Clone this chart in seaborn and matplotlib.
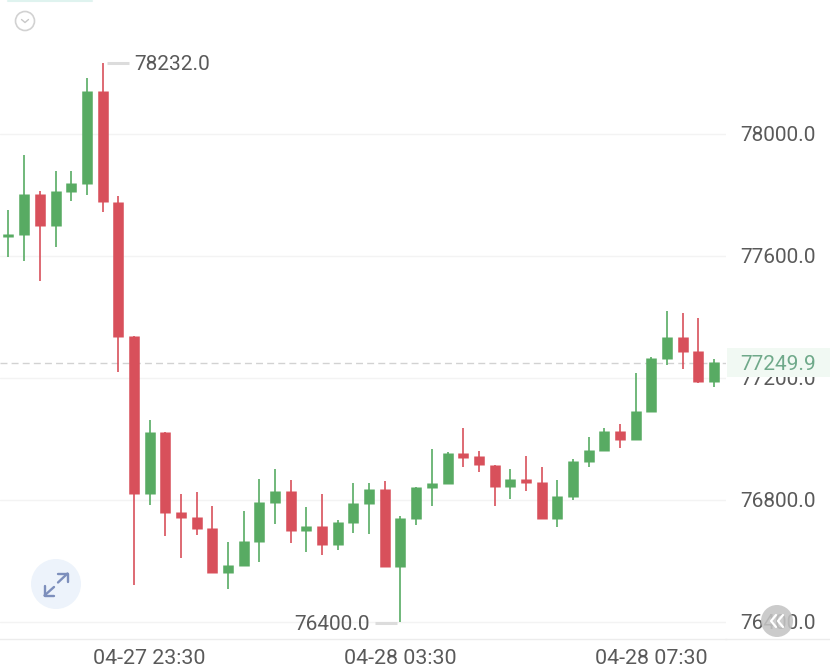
import numpy as np
import pandas as pd
import matplotlib.pyplot as plt
from matplotlib.patches import Circle, Rectangle
import seaborn as sns


# 15 minute candles, prices
opens = [77662, 77669, 77803, 77698, 77810, 77836, 78141, 77777, 77338, 76820, 77023, 76761,
         76744, 76708, 76561, 76584, 76662, 76790, 76830, 76698, 76715, 76652, 76725, 76787,
         76836, 76580, 76738, 76839, 76852, 76954, 76944, 76915, 76843, 76869, 76859, 76738,
         76810, 76925, 76961, 77026, 76997, 77089, 77262, 77334, 77289, 77187]
closes = [77672, 77803, 77698, 77813, 77839, 78141, 77777, 77334, 76820, 77023, 76757, 76741,
          76705, 76561, 76587, 76666, 76793, 76830, 76698, 76715, 76652, 76728, 76790, 76836,
          76580, 76741, 76843, 76856, 76954, 76938, 76915, 76843, 76869, 76856, 76738, 76813,
          76928, 76964, 77026, 76997, 77092, 77266, 77334, 77285, 77187, 77252]
highs = [77751, 77931, 77813, 77879, 77879, 78184, 78232, 77797, 77338, 77062, 77023, 76820,
         76826, 76780, 76662, 76764, 76869, 76902, 76866, 76777, 76820, 76734, 76856, 76856,
         76862, 76748, 76843, 76967, 76957, 77036, 76961, 76915, 76902, 76944, 76908, 76866,
         76934, 77007, 77036, 77049, 77216, 77269, 77420, 77413, 77397, 77262]
lows = [77597, 77584, 77518, 77630, 77780, 77800, 77744, 77220, 76521, 76784, 76682, 76610,
        76685, 76561, 76508, 76584, 76597, 76721, 76659, 76630, 76620, 76636, 76692, 76689,
        76580, 76400, 76718, 76780, 76852, 76908, 76892, 76780, 76803, 76830, 76738, 76711,
        76800, 76908, 76961, 76970, 76997, 77089, 77243, 77230, 77184, 77170]

y_ticks = [76400, 76800, 77200, 77600, 78000]
y_labels = ["76400.0", "76800.0", "77200.0", "77600.0", "78000.0"]
x_ticks = [9, 25, 41]
x_labels = ["04-27 23:30", "04-28 03:30", "04-28 07:30"]
last_price = 77249.9

GREEN = "#58ab63"
RED = "#d8505b"
GRID = "#f3f3f3"
TEXT = "#5a5a5a"

df = pd.DataFrame({"candle": np.arange(len(opens)), "open": opens, "close": closes,
                   "high": highs, "low": lows})
df["side"] = np.where(df["close"] >= df["open"], "up", "down")

# long form, two rows per candle, so lineplot draws each one as a vertical segment
wicks = df.melt(id_vars=["candle", "side"], value_vars=["high", "low"], value_name="price")
bodies = df.melt(id_vars=["candle", "side"], value_vars=["open", "close"], value_name="price")
colors = {"up": GREEN, "down": RED}

sns.set_theme(style="white")
plt.rcParams["font.family"] = ["Roboto", "DejaVu Sans"]

fig = plt.figure(figsize=(8.3, 6.7), dpi=100)
# plot area ends at 725px on the right and 639px at the bottom
ax = fig.add_axes([0, 31 / 670, 725.5 / 830, 639 / 670])

sns.lineplot(data=wicks, x="candle", y="price", units="candle", estimator=None, hue="side",
             palette=colors, legend=False, linewidth=1.2, solid_capstyle="butt", zorder=3, ax=ax)
sns.lineplot(data=bodies, x="candle", y="price", units="candle", estimator=None, hue="side",
             palette=colors, legend=False, linewidth=7.6, solid_capstyle="butt", zorder=4, ax=ax)

ax.set_xlim(-0.542, 45.73)
ax.set_ylim(76344, 78439)
ax.set_xlabel("")
ax.set_ylabel("")

ax.yaxis.tick_right()
ax.set_yticks(y_ticks, y_labels)
ax.set_xticks(x_ticks, x_labels)
ax.tick_params(axis="y", length=0, pad=10.5, labelsize=15, labelcolor=TEXT)
ax.tick_params(axis="x", length=0, pad=7, labelsize=15.4, labelcolor=TEXT)
ax.grid(axis="y", color=GRID, linewidth=1, zorder=0)

sns.despine(ax=ax, left=True, top=True)
ax.spines["right"].set_color("#ececec")
ax.spines["bottom"].set_color("#ececec")
ax.spines["right"].set_linewidth(1)
ax.spines["bottom"].set_linewidth(1)

ax.axhline(last_price, color="#d2d2d2", linewidth=1, linestyle=(0, (5, 3)), zorder=2)

# overlay in pixel coordinates for the labels and the app's buttons
over = fig.add_axes([0, 0, 1, 1], facecolor="none")
over.set_xlim(0, 830)
over.set_ylim(670, 0)
over.axis("off")

over.plot([725, 830], [639, 639], color="#ececec", linewidth=1)

# high and low labels
over.plot([107, 129], [62.5, 62.5], color="#dcdcdc", linewidth=2.2, solid_capstyle="butt")
over.text(134, 65, "78232.0", fontsize=15, color=TEXT, va="center", ha="left")
over.plot([375, 397], [623, 623], color="#dcdcdc", linewidth=2.2, solid_capstyle="butt")
over.text(370, 625, "76400.0", fontsize=15, color=TEXT, va="center", ha="right")

# last price tag, it sits over the 77200.0 label
over.add_patch(Rectangle((727, 348), 103, 29, facecolor="#f1f9f3", edgecolor="none"))
over.text(740, 365, "77249.9", fontsize=15, color="#6fa98a", va="center", ha="left")

# collapse button top left
over.plot([8, 92], [0.5, 0.5], color="#dff3ef", linewidth=1.5)
over.add_patch(Circle((25, 21), 9.5, facecolor="white", edgecolor="#d2d2d2", linewidth=1.2))
over.plot([21.5, 25, 28.5], [19.5, 22.5, 19.5], color="#c8c8c8", linewidth=1)

# expand button
over.add_patch(Circle((56, 584), 25, facecolor="#edf3fb", edgecolor="none"))
arrow = "#7d8fbc"
over.plot([58, 67.5], [582.5, 573.5], color=arrow, linewidth=1.7)
over.plot([58, 67.5, 67.5], [573.5, 573.5, 582], color=arrow, linewidth=1.7)
over.plot([54, 44.5], [587, 595.5], color=arrow, linewidth=1.7)
over.plot([44.5, 44.5, 54], [586, 595.5, 595.5], color=arrow, linewidth=1.7)

# scroll button bottom right, covers part of the 76400.0 label
over.add_patch(Circle((777, 621), 16, facecolor="#c4c4c4", edgecolor="none", alpha=0.88))
over.plot([776, 771, 776], [615, 621, 627], color="white", linewidth=1.6)
over.plot([783, 778, 783], [615, 621, 627], color="white", linewidth=1.6)

plt.savefig("out.png", dpi=100)
